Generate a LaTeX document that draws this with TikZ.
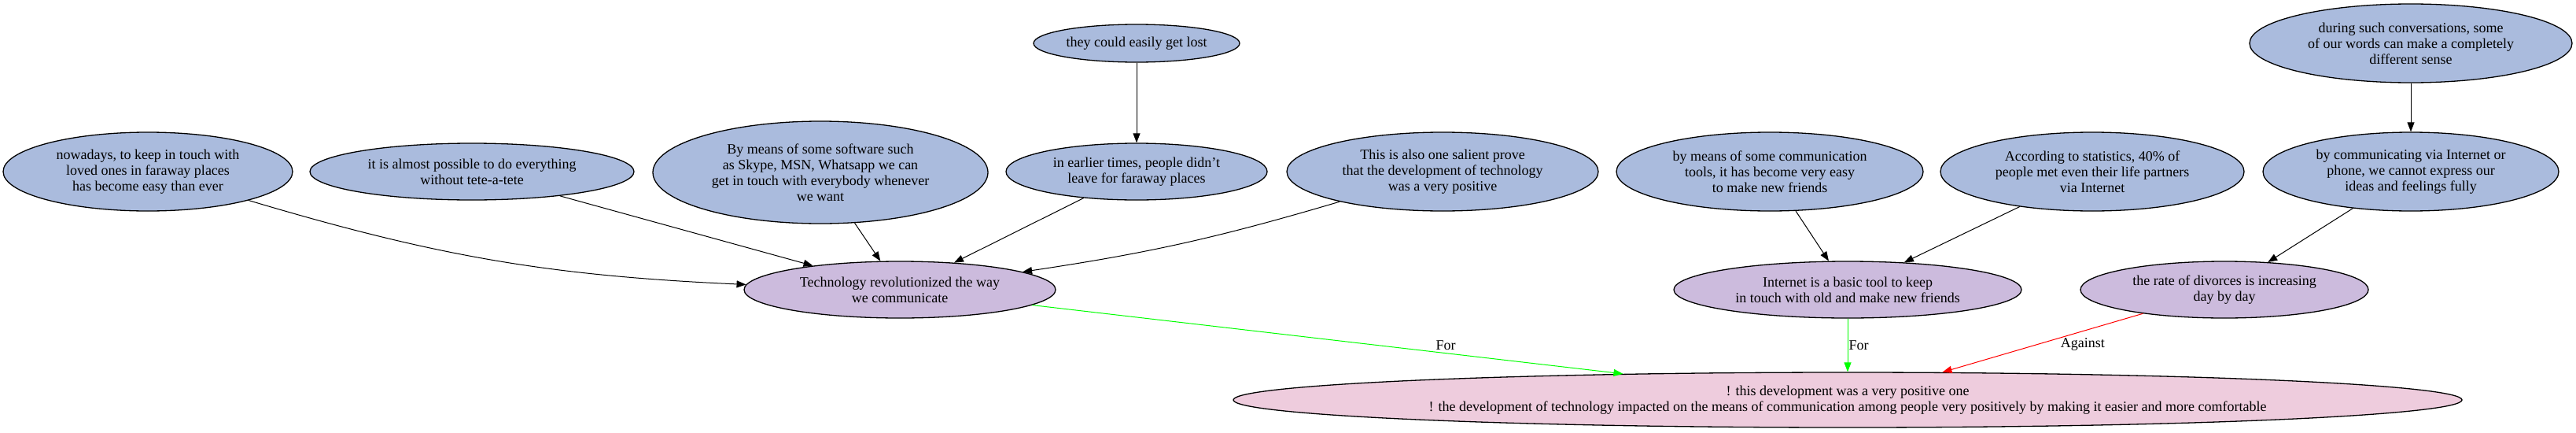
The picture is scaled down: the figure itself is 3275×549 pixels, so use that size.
\documentclass[tikz,border=0pt]{standalone}
\usepackage{fontspec}
\setmainfont{Liberation Serif}
\usetikzlibrary{shapes.geometric,arrows.meta}
\definecolor{nblue}{RGB}{170,187,221}
\definecolor{npurple}{RGB}{204,187,221}
\definecolor{npink}{RGB}{238,204,221}
\begin{document}
\begin{tikzpicture}[x=1pt,y=-1pt,
 el/.style={ellipse, draw=black, line width=1.3pt, inner sep=0pt, align=center, font=\fontsize{18}{20}\selectfont},
 argnode/.style={el, fill=nblue},
 claimnode/.style={el, fill=npurple},
 conclnode/.style={el, fill=npink},
 conn/.style={line width=1pt, -{Triangle[length=12pt,width=9pt]}},
 lbl/.style={font=\fontsize{18}{20}\selectfont, inner sep=1pt, text=black}
]
\useasboundingbox (0,0) rectangle (3275,549);

% top row
\node[argnode, minimum width=262pt, minimum height=48pt] (lost) at (1445,55) {they could easily get lost};
\node[argnode, minimum width=410pt, minimum height=100pt] (during) at (3065,55) {during such conversations, some\\of our words can make a completely\\different sense};

% middle row
\node[argnode, minimum width=368pt, minimum height=100pt] (nowadays) at (188,218) {nowadays, to keep in touch with\\loved ones in faraway places\\has become easy than ever};
\node[argnode, minimum width=412pt, minimum height=72pt] (almost) at (600,218) {it is almost possible to do everything\\without tete-a-tete};
\node[argnode, minimum width=426pt, minimum height=130pt] (software) at (1043,219) {By means of some software such\\as Skype, MSN, Whatsapp we can\\get in touch with everybody whenever\\we want};
\node[argnode, minimum width=332pt, minimum height=72pt] (earlier) at (1445,218) {in earlier times, people didn't\\leave for faraway places};
\node[argnode, minimum width=396pt, minimum height=100pt] (salient) at (1834,218) {This is also one salient prove\\that the development of technology\\was a very positive};
\node[argnode, minimum width=390pt, minimum height=100pt] (tools) at (2250,218) {by means of some communication\\tools, it has become very easy\\to make new friends};
\node[argnode, minimum width=386pt, minimum height=100pt] (stats) at (2660,218) {According to statistics, 40\% of\\people met even their life partners\\via Internet};
\node[argnode, minimum width=376pt, minimum height=100pt] (express) at (3065,218) {by communicating via Internet or\\phone, we cannot express our\\ideas and feelings fully};

% claims
\node[claimnode, minimum width=396pt, minimum height=72pt] (tech) at (1144,368) {Technology revolutionized the way\\we communicate};
\node[claimnode, minimum width=442pt, minimum height=72pt] (inet) at (2349,368) {Internet is a basic tool to keep\\in touch with old and make new friends};
\node[claimnode, minimum width=366pt, minimum height=72pt] (rate) at (2828,368) {the rate of divorces is increasing\\day by day};

% conclusion
\node[conclnode, minimum width=1562pt, minimum height=70pt] (bot) at (2349,508) {! this development was a very positive one\\! the development of technology impacted on the means of communication among people very positively by making it easier and more comfortable};

% edges
\draw[conn] (lost) -- (earlier);
\draw[conn] (during) -- (express);
\draw[conn] (nowadays) to[bend right=7] (tech);
\draw[conn] (almost) -- (tech);
\draw[conn] (software) -- (tech);
\draw[conn] (earlier) -- (tech);
\draw[conn] (salient) to[bend left=4] (tech);
\draw[conn] (tools) -- (inet);
\draw[conn] (stats) -- (inet);
\draw[conn] (express) -- (rate);

\draw[conn, green] (tech) -- node[lbl, pos=0.7, above=2pt] {For} (bot);
\draw[conn, green] (inet) -- node[lbl, pos=0.5, right=0pt] {For} (bot);
\draw[conn, red] (rate) -- node[lbl, pos=0.53, right=29pt] {Against} (bot);
\end{tikzpicture}
\end{document}
